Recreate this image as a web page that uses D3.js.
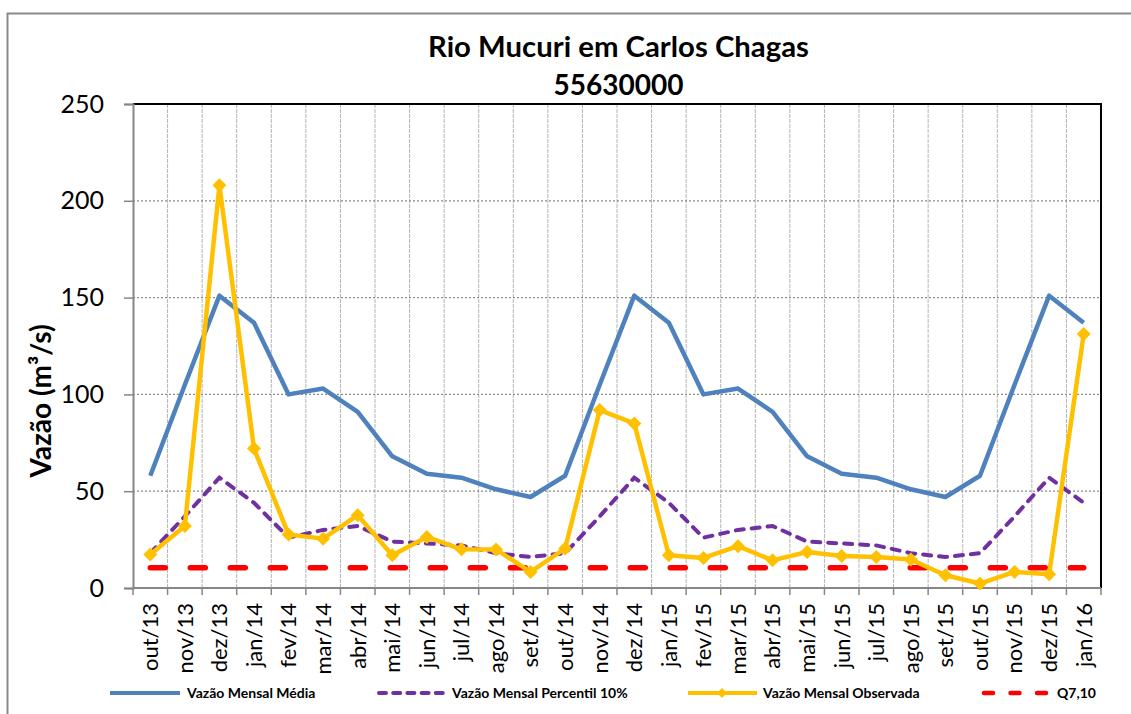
<!DOCTYPE html>
<html>
<head>
<meta charset="utf-8">
<script src="https://cdn.jsdelivr.net/npm/d3@7"></script>
<style>
  html, body { margin: 0; padding: 0; background: #fff; }
  svg { display: block; font-family: Lato, "Open Sans", sans-serif; }
</style>
</head>
<body>
<svg id="chart" width="1131" height="714"></svg>
<script>
// Monthly flow at station 55630000 (Rio Mucuri em Carlos Chagas), m³/s
const categories = ["out/13","nov/13","dez/13","jan/14","fev/14","mar/14","abr/14","mai/14","jun/14","jul/14","ago/14","set/14",
                    "out/14","nov/14","dez/14","jan/15","fev/15","mar/15","abr/15","mai/15","jun/15","jul/15","ago/15","set/15",
                    "out/15","nov/15","dez/15","jan/16"];
const vazaoMedia = [58,105,151,137,100,103,91,68,59,57,51,47,
                    58,105,151,137,100,103,91,68,59,57,51,47,
                    58,105,151,137];
const vazaoPercentil10 = [18,37,57,44,26,30,32,24,23,22,18,16,
                          18,37,57,44,26,30,32,24,23,22,18,16,
                          18,37,57,44];
const vazaoObservada = [17.3,32,208,72,27.6,25.5,37.6,16.9,26.4,20,19.9,8.3,
                        20.4,91.9,85,16.9,15.5,21.6,14.3,18.6,16.5,16,14.7,6.6,
                        2.3,8.3,7.1,131.2];
const q710 = 10.5;
const yTicks = [0,50,100,150,200,250];
const seriesNames = ["Vazão Mensal Média","Vazão Mensal Percentil 10%","Vazão Mensal Observada","Q7,10"];

const svg = d3.select("#chart");
const plot = { left: 133, right: 1101, top: 104, bottom: 588 };

// outer chart frame
svg.append("rect").attr("x", 7.5).attr("y", 13.5).attr("width", 1200).attr("height", 800)
  .attr("fill", "#fff").attr("stroke", "#898989").attr("stroke-width", 2);

const x = d3.scaleBand().domain(categories).range([plot.left, plot.right]);
const cx = c => x(c) + x.bandwidth() / 2;
const y = d3.scaleLinear().domain([0, 250]).range([plot.bottom, plot.top]);

// vertical gridlines at category boundaries
const boundaries = d3.range(categories.length + 1).map(i => plot.left + i * x.step());
svg.append("g").selectAll("line").data(boundaries.slice(1, -1)).join("line")
  .attr("x1", d => d).attr("x2", d => d).attr("y1", plot.top).attr("y2", plot.bottom)
  .attr("stroke", "#b4b4b4").attr("stroke-width", 1).attr("stroke-dasharray", "4,1");

// horizontal gridlines
svg.append("g").selectAll("line").data(yTicks.filter(v => v > 0 && v < 250)).join("line")
  .attr("x1", plot.left).attr("x2", plot.right).attr("y1", d => y(d)).attr("y2", d => y(d))
  .attr("stroke", "#8a8a8a").attr("stroke-width", 1.2).attr("stroke-dasharray", "2,2");

// plot area top and right borders
svg.append("path")
  .attr("d", `M${plot.left},${plot.top}H${plot.right}V${plot.bottom}`)
  .attr("fill", "none").attr("stroke", "#000").attr("stroke-width", 2);

// y axis
const yAxis = svg.append("g").attr("transform", `translate(${plot.left},0)`)
  .call(d3.axisLeft(y).tickValues(yTicks).tickSize(9).tickPadding(20).tickFormat(d3.format("d")));
yAxis.select(".domain").attr("stroke", "#868686").attr("stroke-width", 2);
yAxis.selectAll(".tick line").attr("stroke", "#868686").attr("stroke-width", 1.5);
yAxis.selectAll(".tick text").attr("font-family", "Lato").attr("font-size", 25).attr("fill", "#000");

// x axis: baseline, boundary ticks, rotated labels
svg.append("line").attr("x1", plot.left).attr("x2", plot.right)
  .attr("y1", plot.bottom).attr("y2", plot.bottom)
  .attr("stroke", "#868686").attr("stroke-width", 2);
svg.append("g").selectAll("line").data(boundaries).join("line")
  .attr("x1", d => d).attr("x2", d => d).attr("y1", plot.bottom).attr("y2", plot.bottom + 7)
  .attr("stroke", "#868686").attr("stroke-width", 1.5);
svg.append("g").selectAll("text").data(categories).join("text")
  .attr("transform", d => `translate(${cx(d)},${plot.bottom + 15}) rotate(-90)`)
  .attr("text-anchor", "end").attr("dy", "0.36em")
  .attr("font-size", 22).attr("fill", "#000")
  .text(d => d);

// axis title
svg.append("text").attr("transform", "translate(51,401) rotate(-90)")
  .attr("text-anchor", "middle").attr("font-weight", 700).attr("font-size", 28)
  .text("Vazão (m³/s)");

// chart title
svg.append("text").attr("x", 618.5).attr("y", 57).attr("text-anchor", "middle")
  .attr("font-weight", 700).attr("font-size", 28)
  .attr("textLength", 381).attr("lengthAdjust", "spacingAndGlyphs")
  .text("Rio Mucuri em Carlos Chagas");
svg.append("text").attr("x", 618.5).attr("y", 95).attr("text-anchor", "middle")
  .attr("font-weight", 700).attr("font-size", 28)
  .text("55630000");

const line = d3.line().x((d, i) => cx(categories[i])).y(d => y(d));

// Q7,10 reference line
svg.append("line")
  .attr("x1", cx(categories[0])).attr("x2", cx(categories[categories.length - 1]))
  .attr("y1", y(q710)).attr("y2", y(q710))
  .attr("stroke", "#ff0000").attr("stroke-width", 5.5)
  .attr("stroke-linecap", "round").attr("stroke-dasharray", "15,25");

// mean monthly flow
svg.append("path").datum(vazaoMedia).attr("d", line)
  .attr("fill", "none").attr("stroke", "#4f81bd").attr("stroke-width", 4.5)
  .attr("stroke-linejoin", "round");

// 10th percentile
svg.append("path").datum(vazaoPercentil10).attr("d", line)
  .attr("fill", "none").attr("stroke", "#7030a0").attr("stroke-width", 4)
  .attr("stroke-linecap", "round").attr("stroke-dasharray", "8,8");

// observed
svg.append("path").datum(vazaoObservada).attr("d", line)
  .attr("fill", "none").attr("stroke", "#ffc000").attr("stroke-width", 4.5)
  .attr("stroke-linejoin", "round");
const diamond = r => `M0,${-r}L${r},0L0,${r}L${-r},0Z`;
svg.append("g").selectAll("path").data(vazaoObservada).join("path")
  .attr("transform", (d, i) => `translate(${cx(categories[i])},${y(d)})`)
  .attr("d", diamond(7)).attr("fill", "#ffc000");

// legend
const ly = 693;
const legend = svg.append("g").attr("font-weight", 700).attr("font-size", 14);
legend.append("line").attr("x1", 110).attr("x2", 180).attr("y1", ly).attr("y2", ly)
  .attr("stroke", "#4f81bd").attr("stroke-width", 4);
legend.append("text").attr("x", 187).attr("y", ly + 5).text(seriesNames[0]);

legend.append("line").attr("x1", 379).attr("x2", 444).attr("y1", ly).attr("y2", ly)
  .attr("stroke", "#7030a0").attr("stroke-width", 4)
  .attr("stroke-linecap", "round").attr("stroke-dasharray", "7,7.2");
legend.append("text").attr("x", 452).attr("y", ly + 5).text(seriesNames[1]);

legend.append("line").attr("x1", 688).attr("x2", 757).attr("y1", ly).attr("y2", ly)
  .attr("stroke", "#ffc000").attr("stroke-width", 4);
legend.append("path").attr("transform", `translate(722,${ly})`).attr("d", diamond(5)).attr("fill", "#ffc000");
legend.append("text").attr("x", 763).attr("y", ly + 5).text(seriesNames[2]);

legend.append("line").attr("x1", 984).attr("x2", 1046).attr("y1", ly).attr("y2", ly)
  .attr("stroke", "#ff0000").attr("stroke-width", 4.5)
  .attr("stroke-linecap", "round").attr("stroke-dasharray", "9,17.5");
legend.append("text").attr("x", 1057).attr("y", ly + 5).text(seriesNames[3]);
</script>
</body>
</html>
